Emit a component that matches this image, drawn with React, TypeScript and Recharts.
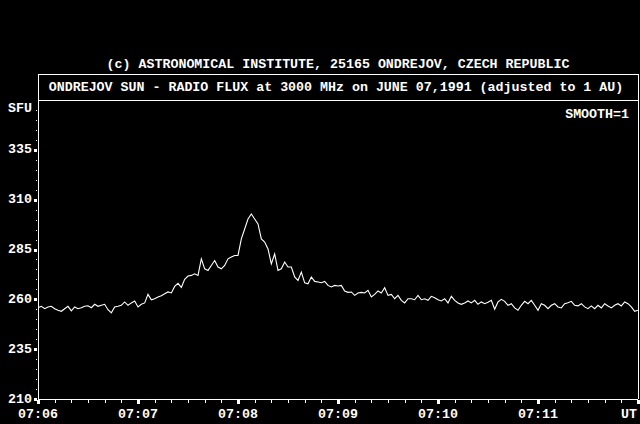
import { Line, LineChart, XAxis, YAxis } from 'recharts'

const minuteLabels = ['07:06', '07:07', '07:08', '07:09', '07:10', '07:11', 'UT']
const sfuLabels = [210, 235, 260, 285, 310, 335]
const sampleStep = 2 // seconds between samples

// flux in SFU, one value every 2 s, grouped by minute
const flux0706 = [
  255.8, 256.5, 255.3, 256.2, 256.5, 255.3, 254.5, 254, 255.3, 256.5,
  254.2, 256.2, 255.3, 255.8, 256.5, 256.8, 255.8, 257.5, 256.5, 257,
  257.5, 254.8, 253.2, 256.2, 256.5, 257, 258.7, 257, 258.2, 259.2,
]
const flux0707 = [
  256.2, 257.5, 258.2, 262.5, 259.8, 260.3, 261.2, 261.8, 262.8, 263.7,
  263.2, 266.5, 268, 266, 270, 271.7, 272, 272.8, 272, 280.3,
  275.3, 274.5, 277, 279.5, 276.2, 275.3, 277, 280.3, 281.2, 282,
]
const flux0708 = [
  282, 290.3, 295.3, 300.3, 302.8, 300.3, 297.8, 290.3, 288.7, 285.3,
  277.8, 282.8, 274.5, 275.3, 278.7, 276.2, 276.2, 271.2, 269.5, 273.7,
  268.3, 267.8, 271.2, 269, 268.7, 268.3, 269, 267, 266.2, 267,
]
const flux0709 = [
  266.7, 267, 264.2, 263.5, 263.7, 262, 263.2, 263.5, 263.2, 264.5,
  261.2, 262.5, 264.2, 263.2, 265.8, 262, 262.5, 260.3, 262, 259.5,
  258.2, 260.3, 260.3, 259.8, 262, 259.8, 260.3, 259.5, 261.5, 260.8,
]
const flux0710 = [
  259.8, 259.2, 260.3, 258.2, 261.5, 259.5, 258.2, 257.5, 258.2, 259.2,
  258.2, 259.5, 257.5, 258.7, 257.8, 258.5, 259.5, 255, 258.7, 260,
  259, 257, 257.8, 255.7, 254.5, 257, 259, 257.8, 259.5, 257,
]
const flux0711 = [
  254.5, 257.8, 257, 255.3, 257, 257.8, 256.2, 255.7, 257.8, 258.3,
  259, 257, 256.7, 257.8, 256.2, 255.3, 256.7, 255.3, 257, 255.7,
  257.8, 256.7, 255.7, 257, 257.8, 256.7, 258.7, 257.8, 256.2, 254,
  254.5,
]

const flux = [...flux0706, ...flux0707, ...flux0708, ...flux0709, ...flux0710, ...flux0711]
const data = flux.map((sfu, i) => ({ t: i * sampleStep, sfu }))

const secondTicks = Array.from({ length: 37 }, (_, i) => i * 10)
const sfuTicks = Array.from({ length: 31 }, (_, i) => 210 + i * 5)

const font = "'Liberation Mono', 'DejaVu Sans Mono', monospace"
const textStyle = { fill: '#fff', fontFamily: font, fontSize: 13.3, fontWeight: 700 }

function TimeTick({ x, y, payload }: any) {
  const sec = payload.value
  if (sec % 60 !== 0) {
    return <rect x={Math.round(x)} y={y + 1} width={1} height={3} fill='#fff' />
  }
  const label = minuteLabels[sec / 60]
  const last = label === 'UT'
  return (
    <g>
      <rect x={Math.round(x) - 1} y={y + 1} width={3} height={4} fill='#fff' />
      <text
        x={last ? x - 1 : x}
        y={y + 15}
        textAnchor={last ? 'end' : 'middle'}
        dominantBaseline='central'
        style={textStyle}
      >
        {label}
      </text>
    </g>
  )
}

function TopTick({ x, y }: any) {
  return <rect x={Math.round(x)} y={y} width={1} height={3} fill='#fff' />
}

function SfuTick({ x, y, payload }: any) {
  const v = payload.value
  if (v === 360) return <g />
  if (!sfuLabels.includes(v)) {
    return <rect x={x - 2} y={Math.round(y)} width={1} height={1} fill='#fff' />
  }
  return (
    <g>
      <rect x={x - 4} y={Math.round(y) - 1} width={3} height={3} fill='#fff' />
      <text x={x - 6} y={y} textAnchor='end' dominantBaseline='central' style={textStyle}>
        {v}
      </text>
    </g>
  )
}

export default function App() {
  return (
    <div
      style={{
        position: 'absolute',
        left: 0,
        top: 0,
        width: 640,
        height: 424,
        background: '#000',
        overflow: 'hidden',
      }}
    >
      <LineChart width={640} height={424} data={data} margin={{ top: 100, right: 0, bottom: 0, left: 0 }}>
        <XAxis
          xAxisId='b'
          dataKey='t'
          type='number'
          domain={[0, 360]}
          ticks={secondTicks}
          interval={0}
          height={25}
          tickSize={0}
          tickMargin={0}
          tickLine={false}
          axisLine={{ stroke: '#fff', shapeRendering: 'crispEdges' }}
          tick={<TimeTick />}
          allowDataOverflow
        />
        <XAxis
          xAxisId='t'
          orientation='top'
          type='number'
          domain={[0, 360]}
          ticks={secondTicks}
          interval={0}
          height={0}
          tickSize={0}
          tickMargin={0}
          tickLine={false}
          axisLine={{ stroke: '#fff', shapeRendering: 'crispEdges' }}
          tick={<TopTick />}
          allowDataOverflow
        />
        <YAxis
          yAxisId='l'
          domain={[210, 360]}
          ticks={sfuTicks}
          interval={0}
          width={38}
          tickSize={0}
          tickMargin={0}
          tickLine={false}
          axisLine={{ stroke: '#fff', shapeRendering: 'crispEdges' }}
          tick={<SfuTick />}
          allowDataOverflow
        />
        <YAxis
          yAxisId='r'
          orientation='right'
          domain={[210, 360]}
          width={2}
          tick={false}
          tickLine={false}
          axisLine={{ stroke: '#fff', shapeRendering: 'crispEdges' }}
        />
        <Line
          xAxisId='b'
          yAxisId='l'
          dataKey='sfu'
          type='linear'
          stroke='#fff'
          strokeWidth={1.1}
          dot={false}
          isAnimationActive={false}
        />
      </LineChart>
      <svg
        width={640}
        height={424}
        style={{ position: 'absolute', left: 0, top: 0, pointerEvents: 'none' }}
      >
        <text x={338} y={64} textAnchor='middle' dominantBaseline='central' style={textStyle}>
          (c) ASTRONOMICAL INSTITUTE, 25165 ONDREJOV, CZECH REPUBLIC
        </text>
        <rect x={38.5} y={74.5} width={600} height={26} fill='none' stroke='#fff' shapeRendering='crispEdges' />
        <text x={336} y={87} textAnchor='middle' dominantBaseline='central' style={textStyle}>
          ONDREJOV SUN - RADIO FLUX at 3000 MHz on JUNE 07,1991 (adjusted to 1 AU)
        </text>
        <text x={32} y={108} textAnchor='end' dominantBaseline='central' style={textStyle}>
          SFU
        </text>
        <text x={629} y={114} textAnchor='end' dominantBaseline='central' style={textStyle}>
          SMOOTH=1
        </text>
      </svg>
    </div>
  )
}
